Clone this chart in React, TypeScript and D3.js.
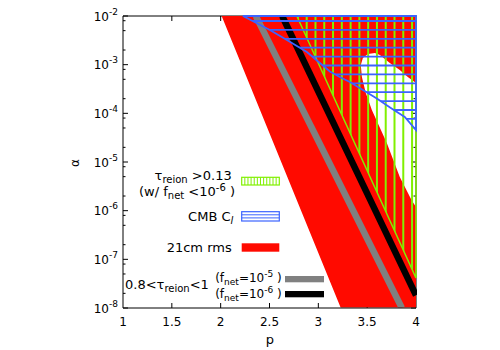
import React from 'react';
import * as d3 from 'd3';

// ---- data (p, alpha) ----
const xTickValues = [1, 1.5, 2, 2.5, 3, 3.5, 4];
const xTickLabels = ['1', '1.5', '2', '2.5', '3', '3.5', '4'];
const yExponents = [-8, -7, -6, -5, -4, -3, -2];
const yMinorMultipliers = [2, 5, 8];

// 21cm rms excluded region (outer polygon) and the allowed "hole"
const rmsP = [2.01, 3.23, 4.0, 4.0];
const rmsA = [1e-2, 1e-8, 1e-8, 1e-2];
const holeP = [4.0, 3.954, 3.834, 3.701, 3.548, 3.486, 3.446, 3.435, 3.456, 3.507, 3.579, 3.63, 3.732, 3.834, 3.916, 4.0];
const holeA = [1.19e-6, 1.66e-6, 4.92e-6, 2.46e-5, 1.17e-4, 2.62e-4, 5.58e-4, 9.84e-4, 1.37e-3, 1.66e-3, 1.74e-3, 1.58e-3, 1.08e-3, 7.76e-4, 5.58e-4, 4.2e-4];

// CMB C_l excluded region
const cmbP = [2.228, 2.504, 2.678, 2.883, 3.016, 3.118, 3.22, 3.323, 3.456, 3.599, 3.742, 3.885, 4.0, 4.0];
const cmbA = [1e-2, 5.15e-3, 3.21e-3, 1.82e-3, 1.08e-3, 7.24e-4, 5.58e-4, 4.41e-4, 3.02e-4, 2.02e-4, 1.29e-4, 8.41e-5, 4.55e-5, 1e-2];

// tau_reion > 0.13 region
const tauP = [2.78, 4.0, 4.0];
const tauA = [1e-2, 4.14e-8, 1e-2];

// 0.8 < tau_reion < 1 lines
const grayP = [2.36, 3.855];
const grayA = [1e-2, 1e-8];
const blackP = [2.63, 4.0];
const blackA = [1e-2, 1.82e-8];

const RED = '#ff0a00';
const GREEN = '#80f000';
const BLUE = '#3b63ff';
const GRAY = '#808080';
const FONT = 'DejaVu Sans, sans-serif';

export default function App() {
  const x = d3.scaleLinear().domain([1, 4]).range([123, 416]);
  const y = d3.scaleLog().domain([1e-8, 1e-2]).range([308, 16]);
  const line = d3
    .line<[number, number]>()
    .x((d) => x(d[0]))
    .y((d) => y(d[1]));
  const pts = (P: number[], A: number[]) => P.map((p, i) => [p, A[i]] as [number, number]);

  const redPath = line(pts(rmsP, rmsA)) + 'Z' + line(pts(holeP, holeA)) + 'Z';
  const cmbPath = line(pts(cmbP, cmbA)) + 'Z';
  const tauPath = line(pts(tauP, tauA)) + 'Z';
  const grayPath = line(pts(grayP, grayA));
  const blackPath = line(pts(blackP, blackA));

  const x0 = x(1), x1 = x(4), y0 = y(1e-8), y1 = y(1e-2);

  // hatch pattern (styling) positions
  const vHatch: number[] = [];
  for (let k = -1; k <= 13; k++) vHatch.push(306.7 + 8.78 * k);
  const hHatch: number[] = [];
  for (let k = 0; k <= 13; k++) hHatch.push(21 + 8.9 * k);

  const majors = yExponents.map((e) => Math.pow(10, e));
  const minors: number[] = [];
  yExponents.slice(0, -1).forEach((e) => yMinorMultipliers.forEach((m) => minors.push(m * Math.pow(10, e))));

  return (
    <svg width={500} height={350} style={{ position: 'absolute', left: 0, top: 0, background: '#fff' }} fontFamily={FONT}>
      <defs>
        <clipPath id="plot">
          <rect x={x0} y={y1 - 1} width={x1 - x0 + 1} height={y0 - y1 + 0.5} />
        </clipPath>
        <clipPath id="tauClip">
          <path d={tauPath} />
        </clipPath>
        <clipPath id="cmbClip">
          <path d={cmbPath} />
        </clipPath>
      </defs>

      {/* border top/right (under fills) */}
      <line x1={x0} x2={x1} y1={y1} y2={y1} stroke="#000" strokeWidth={1} />
      <line x1={x1} x2={x1} y1={y1} y2={y0} stroke="#000" strokeWidth={1} />

      {/* ticks */}
      {majors.map((v, i) => (
        <g key={'ym' + i}>
          <line x1={x0} x2={x0 + 5} y1={y(v)} y2={y(v)} stroke="#000" />
          <line x1={x1} x2={x1 - 5} y1={y(v)} y2={y(v)} stroke="#000" />
        </g>
      ))}
      {minors.map((v, i) => (
        <g key={'yn' + i}>
          <line x1={x0} x2={x0 + 2.5} y1={y(v)} y2={y(v)} stroke="#000" />
          <line x1={x1} x2={x1 - 2.5} y1={y(v)} y2={y(v)} stroke="#000" />
        </g>
      ))}
      {xTickValues.slice(1, -1).map((v, i) => (
        <g key={'xt' + i}>
          <line x1={x(v)} x2={x(v)} y1={y0} y2={y0 - 5} stroke="#000" />
          <line x1={x(v)} x2={x(v)} y1={y1} y2={y1 + 5} stroke="#000" />
        </g>
      ))}

      <g clipPath="url(#plot)">
        <path d={redPath} fill={RED} fillRule="evenodd" />
        <path d={grayPath} stroke={GRAY} strokeWidth={6.5} fill="none" />
        <path d={blackPath} stroke="#000" strokeWidth={6.5} fill="none" />
        <g clipPath="url(#tauClip)">
          {vHatch.map((hx, i) => (
            <line key={'vh' + i} x1={hx} x2={hx} y1={y1} y2={y0} stroke={GREEN} strokeWidth={2} />
          ))}
        </g>
        <path d={tauPath} fill="none" stroke={GREEN} strokeWidth={1.5} />
        <g clipPath="url(#cmbClip)">
          {hHatch.map((hy, i) => (
            <line key={'hh' + i} x1={x0} x2={x1} y1={hy} y2={hy} stroke={BLUE} strokeWidth={1.8} />
          ))}
        </g>
        <path d={cmbPath} fill="none" stroke={BLUE} strokeWidth={1.8} />
      </g>

      {/* border left/bottom */}
      <line x1={x0} x2={x0} y1={y1} y2={y0} stroke="#000" strokeWidth={1} />
      <line x1={x0} x2={x1} y1={y0} y2={y0} stroke="#000" strokeWidth={1} />

      {/* tick labels */}
      {xTickValues.map((v, i) => (
        <text key={'xl' + i} x={x(v)} y={326} fontSize={12} textAnchor="middle">
          {xTickLabels[i]}
        </text>
      ))}
      {yExponents.map((e, i) => (
        <text key={'yl' + i} x={118} y={y(Math.pow(10, e)) + 4.5} fontSize={12} textAnchor="end">
          10
          <tspan dy={-6} fontSize={9}>
            {String(e)}
          </tspan>
        </text>
      ))}

      {/* axis labels */}
      <text x={270} y={344} fontSize={13} textAnchor="middle">p</text>
      <text x={78.5} y={163} fontSize={12} textAnchor="middle" transform="rotate(-90 78.5 163)">α</text>

      {/* legend */}
      <text x={231.7} y={180} fontSize={13} textAnchor="end">
        τ<tspan dy={3} fontSize={10}>reion</tspan>
        <tspan dy={-3}> &gt;0.13</tspan>
      </text>
      <text x={235} y={195.7} fontSize={13} textAnchor="end">
        (w/ f<tspan dy={3} fontSize={10}>net</tspan>
        <tspan dy={-3}> &lt;10</tspan>
        <tspan dy={-5} fontSize={10}>-6</tspan>
        <tspan dy={5}> )</tspan>
      </text>
      <rect x={241.7} y={177.3} width={37.6} height={7.7} fill="none" stroke={GREEN} strokeWidth={1.2} />
      {d3.range(1, 12).map((i) => (
        <line key={'lg' + i} x1={241.7 + 3.13 * i} x2={241.7 + 3.13 * i} y1={177.3} y2={185} stroke={GREEN} strokeWidth={1} />
      ))}

      <text x={233.3} y={221} fontSize={13} textAnchor="end">
        CMB C<tspan dy={3} fontSize={10} fontStyle="italic">l</tspan>
      </text>
      <rect x={241.7} y={211.7} width={37.6} height={9.3} fill="none" stroke={BLUE} strokeWidth={1.2} />
      <line x1={241.7} x2={279.3} y1={214.8} y2={214.8} stroke={BLUE} strokeWidth={1} />
      <line x1={241.7} x2={279.3} y1={217.9} y2={217.9} stroke={BLUE} strokeWidth={1} />

      <text x={231.7} y={252.3} fontSize={13} textAnchor="end">21cm rms</text>
      <rect x={241.7} y={243.3} width={37.6} height={8.4} fill={RED} />

      <text x={125} y={289} fontSize={13} textAnchor="start">
        0.8&lt;τ<tspan dy={3} fontSize={10}>reion</tspan>
        <tspan dy={-3}>&lt;1</tspan>
      </text>
      <text x={281.7} y={281.5} fontSize={12} textAnchor="end">
        (f<tspan dy={3} fontSize={9}>net</tspan>
        <tspan dy={-3}>=10</tspan>
        <tspan dy={-5} fontSize={9}>-5</tspan>
        <tspan dy={5}> )</tspan>
      </text>
      <rect x={285} y={276} width={39} height={6.3} fill={GRAY} />
      <text x={281.7} y={298} fontSize={12} textAnchor="end">
        (f<tspan dy={3} fontSize={9}>net</tspan>
        <tspan dy={-3}>=10</tspan>
        <tspan dy={-5} fontSize={9}>-6</tspan>
        <tspan dy={5}> )</tspan>
      </text>
      <rect x={285} y={291} width={39} height={6.3} fill="#000" />
    </svg>
  );
}
